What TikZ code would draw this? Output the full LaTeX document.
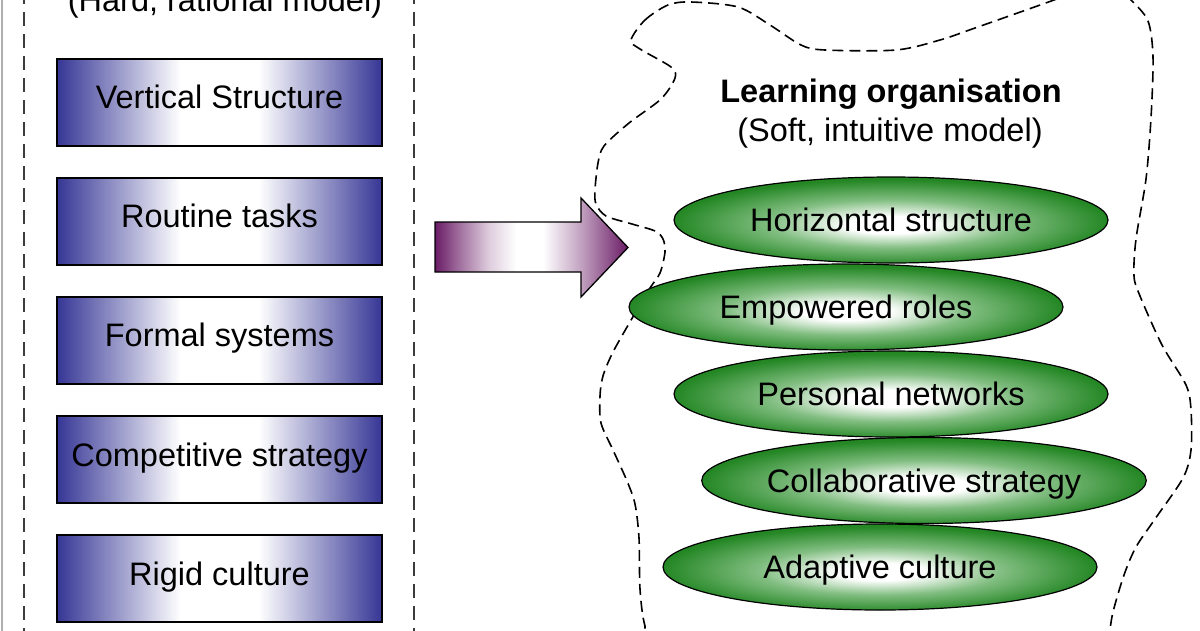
\documentclass[tikz,border=0pt]{standalone}
\usepackage{fontspec}
\setmainfont{Liberation Sans}
\usetikzlibrary{shapes.geometric}
\definecolor{bx}{RGB}{54,54,150}
\definecolor{pu}{RGB}{106,28,102}
\definecolor{eg}{RGB}{38,142,38}
\definecolor{lgrey}{RGB}{175,175,175}
\definecolor{dgrey}{RGB}{60,60,60}
\pgfdeclarehorizontalshading{bluebar}{100bp}{color(0bp)=(bx); color(25bp)=(bx); color(44bp)=(white); color(56bp)=(white); color(75bp)=(bx); color(100bp)=(bx)}
\pgfdeclarehorizontalshading{purplebar}{100bp}{color(0bp)=(pu); color(25bp)=(pu); color(31bp)=(pu!65!white); color(39bp)=(pu!22!white); color(46bp)=(white); color(53bp)=(white); color(63bp)=(pu!42!white); color(75bp)=(pu); color(100bp)=(pu)}
\pgfdeclareradialshading{greenball}{\pgfpoint{0bp}{-3bp}}{color(0bp)=(white); color(5bp)=(white); color(14bp)=(eg!58!white); color(25bp)=(eg!95!black); color(50bp)=(eg!95!black)}
\tikzset{
  bar/.style={draw=black, line width=1.5pt, shade, shading=bluebar,
    minimum width=325pt, minimum height=87pt, inner sep=0pt,
    text height=23pt, text depth=10pt},
  gell/.style={ellipse, draw=black, line width=1.2pt, shade, shading=greenball,
    minimum width=434pt, minimum height=86pt, inner sep=0pt,
    text height=23pt, text depth=0pt},
  leftdash/.style={draw=dgrey, line width=1.6pt, dash pattern=on 14pt off 8pt},
  blobline/.style={draw=black, line width=1.6pt, dash pattern=on 11pt off 6pt},
  bigarrow/.style={draw=black, line width=1.3pt, shade, shading=purplebar, line join=miter},
  ttl/.style={inner sep=0pt, anchor=base}
}
\begin{document}
\begin{tikzpicture}[x=1pt,y=-1pt,font=\fontsize{32.5}{39}\selectfont]
\useasboundingbox (0,0) rectangle (1200,630);
\clip (0,0) rectangle (1200,630);
\fill[white] (0,0) rectangle (1200,630);
% left frame
\draw[lgrey, line width=2pt] (2,-5) -- (2,640);
\coordinate (l1t) at (24,-10); \coordinate (l1b) at (24,640);
\coordinate (l2t) at (414,-10); \coordinate (l2b) at (414,640);
\draw[leftdash] (l1t) -- (l1b);
\draw[leftdash] (l2t) -- (l2b);
\node[ttl] (hard) at (225,11) {(Hard, rational model)};
% boxes
\node[bar] (b1) at (219.5,102.3) {Vertical Structure};
\node[bar] (b2) at (219.5,221.4) {Routine tasks};
\node[bar] (b3) at (219.5,340.4) {Formal systems};
\node[bar] (b4) at (219.5,459.5) {Competitive strategy};
\node[bar] (b5) at (219.5,578.5) {Rigid culture};
% big arrow
\path[bigarrow] (435,222) -- (581,222) -- (581,198) -- (628,247.5) -- (581,297) -- (581,272) -- (435,272) -- cycle;
% cloud boundary
\draw[blobline] plot[smooth cycle, tension=0.5] coordinates {
 (631,40) (645,20) (668,5) (691,2) (738,7) (770,25) (801,45) (825,50) (896,50)
 (940,40) (975,28) (1054,0) (1090,-14) (1120,-8) (1131,0) (1148,21) (1153,57)
 (1151,118) (1146,179) (1136,239) (1134,276) (1140,296) (1162,345) (1186,385)
 (1191,410) (1191,450) (1183,478) (1155,519) (1136,547) (1124,575) (1113,612)
 (1108,640) (1100,660) (900,680) (660,660) (645,626) (640,589) (639,538)
 (635,504) (627,481) (613,450) (601,423) (600,396) (603,376) (613,352)
 (634,315) (650,288) (660,273) (665,252) (663,239) (655,231) (632,224)
 (606,216) (596,204) (595,190) (598,163) (604,146) (629,123) (661,99)
 (675,78) (671,67) (640,49)};
% titles
\node[ttl, font=\fontsize{32.5}{39}\selectfont\bfseries] (lo) at (891,102) {Learning organisation};
\node[ttl] (soft) at (890,141) {(Soft, intuitive model)};
% ellipses
\node[gell] (e1) at (891,220) {Horizontal structure};
\node[gell] (e2) at (846,307) {Empowered roles};
\node[gell] (e3) at (891,394) {Personal networks};
\node[gell] (e4) at (924,480.5) {Collaborative strategy};
\node[gell] (e5) at (880,567) {Adaptive culture};
\end{tikzpicture}
\end{document}
